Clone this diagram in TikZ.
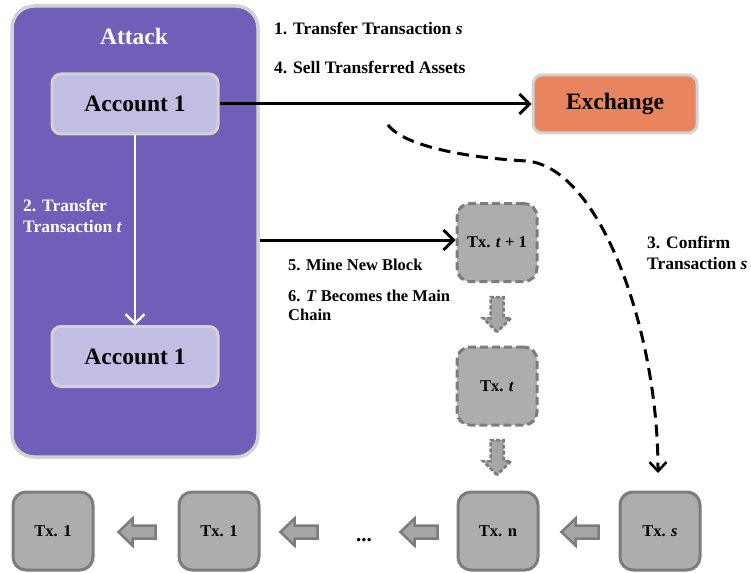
\documentclass[tikz,border=0pt]{standalone}
\usepackage{fontspec}
\setmainfont{Liberation Serif}
\usetikzlibrary{arrows.meta,calc}

\definecolor{attackpurple}{HTML}{715EB8}
\definecolor{accfill}{HTML}{C2BDE3}
\definecolor{exchfill}{HTML}{E8855F}
\definecolor{frameedge}{HTML}{D2D2D2}
\definecolor{txfill}{HTML}{ADADAD}
\definecolor{txedge}{HTML}{7C7C7C}
\definecolor{bafill}{HTML}{A6A6A6}

\tikzset{
  panel/.style={draw=frameedge, line width=3.5pt, fill=attackpurple, rounded corners=22pt,
    minimum width=246pt, minimum height=451pt},
  accbox/.style={draw=frameedge, line width=3pt, fill=accfill, rounded corners=9pt,
    minimum width=166pt, minimum height=60pt, font=\fontsize{23.5}{26}\selectfont\bfseries},
  exchbox/.style={draw=frameedge, line width=3pt, fill=exchfill, rounded corners=9pt,
    minimum width=164pt, minimum height=58pt, font=\fontsize{23.5}{26}\selectfont\bfseries},
  txbox/.style={draw=txedge, line width=3pt, fill=txfill, rounded corners=13pt,
    minimum width=80pt, minimum height=78pt, font=\fontsize{16.5}{19}\selectfont\bfseries},
  txpending/.style={txbox, dash pattern=on 8pt off 4pt},
  lbl/.style={anchor=base west, inner sep=0pt, font=\fontsize{17.5}{21}\selectfont\bfseries},
  lblsmall/.style={anchor=base west, inner sep=0pt, font=\fontsize{16.5}{20}\selectfont\bfseries},
  flow/.style={line width=3pt, -{Straight Barb[length=10pt,width=20pt,line width=3pt]}},
  blockarrow/.style={draw=txedge, fill=bafill, line width=2.5pt, line join=miter},
  pics/leftarrow/.style={code={
    \draw[blockarrow] (-18.5,0) -- (-4.5,-13.5) -- (-4.5,-6.5) -- (18.5,-6.5)
      -- (18.5,6.5) -- (-4.5,6.5) -- (-4.5,13.5) -- cycle;}},
  pics/downarrow/.style={code={
    \draw[blockarrow, dash pattern=on 4pt off 2pt] (0,17.5) -- (-14,3.5) -- (-6.5,3.5)
      -- (-6.5,-17.5) -- (6.5,-17.5) -- (6.5,3.5) -- (14,3.5) -- cycle;}},
}

\begin{document}
\begin{tikzpicture}[x=1pt,y=-1pt]
\useasboundingbox (0,0) rectangle (751,572);

% attacker panel
\node[panel] (attack) at (135,231.5) {};
\node[anchor=base, inner sep=0pt, text=white, font=\fontsize{23.5}{26}\selectfont\bfseries]
  (attackTitle) at (134,45) {Attack};
\node[accbox] (acc1) at (135,104) {Account 1};
\node[accbox] (acc2) at (135,356.5) {Account 1};
\draw[line width=2.5pt, white, -{Straight Barb[length=9pt,width=19pt,line width=2.5pt]}]
  (acc1.south) -- (acc2.north);
\node[lbl, text=white] (lblTwoA) at (23,211) {2. Transfer};
\node[lbl, text=white] (lblTwoB) at (23,232) {Transaction \textit{t}};

% exchange
\node[exchbox] (exch) at (615,104) {Exchange};
\draw[flow] (acc1.east) -- (exch.west);
\node[lbl] (lblOne) at (274,35) {1. Transfer Transaction \textit{s}};
\node[lbl] (lblFour) at (274,74) {4. Sell Transferred Assets};

% private chain
\node[txpending] (txt1) at (497,242.5) {Tx. \textit{t} + 1};
\node[txpending] (txt) at (497,386) {Tx. \textit{t}};
\draw[flow] (attack.east |- 0,240) -- (txt1.west |- 0,240);
\node[lblsmall] (lblFive) at (288,270) {5. Mine New Block};
\node[lblsmall] (lblSixA) at (288,301) {6. \textit{T} Becomes the Main};
\node[lblsmall] (lblSixB) at (288,320) {Chain};
\pic at (497,314.5) {downarrow};
\pic at (497,457.5) {downarrow};

% public chain
\node[txbox] (tx1a) at (53,531) {Tx. 1};
\node[txbox] (tx1b) at (219,531) {Tx. 1};
\node[anchor=base, inner sep=0pt, font=\fontsize{21}{24}\selectfont\bfseries] (dots) at (364,541) {...};
\node[txbox] (txn) at (498,531) {Tx. n};
\node[txbox] (txs) at (660,531) {Tx. \textit{s}};
\pic at (137,532) {leftarrow};
\pic at (299,532) {leftarrow};
\pic at (419,532) {leftarrow};
\pic at (580,532) {leftarrow};

% confirmation of s
\coordinate (confirmStart) at (388,125);
\coordinate (confirmEnd) at (658,473);
\draw[line width=3pt, dash pattern=on 12pt off 7pt,
      -{Straight Barb[length=9pt,width=17pt,line width=2.6pt]}]
  (confirmStart) .. controls (405,147) and (470,158) .. (527,161)
  .. controls (600,168) and (658,330) .. (confirmEnd);
\node[lbl] (lblThreeA) at (647,248) {3. Confirm};
\node[lbl] (lblThreeB) at (647,269) {Transaction \textit{s}};
\end{tikzpicture}
\end{document}
